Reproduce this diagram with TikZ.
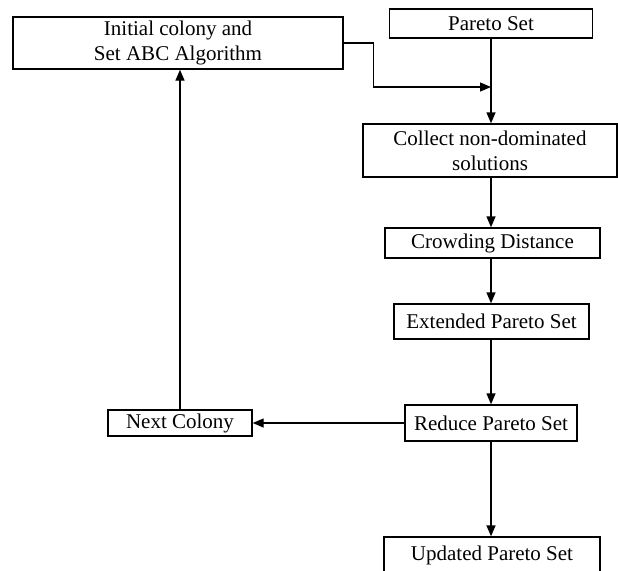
\documentclass[tikz,border=0pt]{standalone}
\usepackage{fontspec}
\setmainfont{Liberation Serif}
\usetikzlibrary{arrows.meta,positioning}

\begin{document}
\begin{tikzpicture}[x=1pt, y=-1pt,
    box/.style={rectangle, draw=black, line width=1.4pt, inner sep=0pt, align=center,
      font=\fontsize{21}{25}\selectfont},
    flow/.style={draw=black, line width=1.4pt, -{Triangle[length=11pt,width=9pt]}}]
  \useasboundingbox (0,0) rectangle (618,570);
  % left column
  \node[box, minimum width=330pt, minimum height=52pt] (init) at (178,43) {Initial colony and\\Set ABC Algorithm};
  \node[box, minimum width=144pt, minimum height=26pt] (next) at (180,423) {Next Colony};
  % right column
  \node[box, minimum width=203pt, minimum height=29pt] (pareto) at (491,23.5) {Pareto Set};
  \node[box, minimum width=254pt, minimum height=53pt] (collect) at (490,150.5) {Collect non-dominated\\solutions};
  \node[box, minimum width=215pt, minimum height=30pt] (crowd) at (492.5,243) {Crowding Distance};
  \node[box, minimum width=195pt, minimum height=35pt] (extended) at (491.5,321.5) {Extended Pareto Set};
  \node[box, minimum width=172pt, minimum height=36pt] (reduce) at (491,423) {Reduce Pareto Set};
  \node[box, minimum width=216pt, minimum height=36pt] (updated) at (492,555) {Updated Pareto Set};
  \coordinate (join) at (491,87);
  % connectors
  \draw[flow] (init.east) -- ++(30,0) |- (join);
  \draw[flow] (pareto.south) -- (pareto.south |- collect.north);
  \draw[flow] (pareto.south |- collect.south) -- (pareto.south |- crowd.north);
  \draw[flow] (pareto.south |- crowd.south) -- (pareto.south |- extended.north);
  \draw[flow] (pareto.south |- extended.south) -- (pareto.south |- reduce.north);
  \draw[flow] (reduce.south) -- (reduce.south |- updated.north);
  \draw[flow] (reduce.west) -- (next.east);
  \draw[flow] (next.north) -- (next.north |- init.south);
\end{tikzpicture}
\end{document}
